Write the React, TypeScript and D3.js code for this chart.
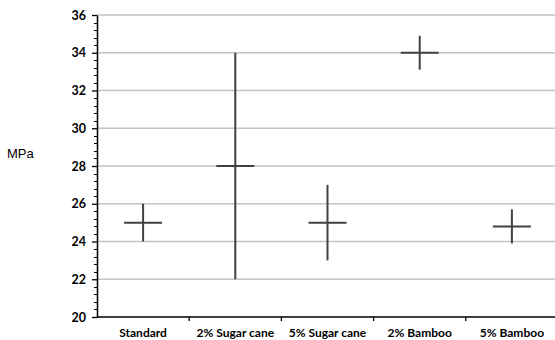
import React, { useEffect, useRef } from 'react';
import * as d3 from 'd3';

const categories = ['Standard', '2% Sugar cane', '5% Sugar cane', '2% Bamboo', '5% Bamboo'];
const meanValues = [25, 28, 25, 34, 24.8];
const highValues = [26, 34, 27, 34.9, 25.7];
const lowValues = [24, 22, 23, 33.1, 23.9];
const yTicks = [20, 22, 24, 26, 28, 30, 32, 34, 36];

const Chart: React.FC = () => {
  const svgRef = useRef<SVGSVGElement>(null);

  useEffect(() => {
    if (!svgRef.current) return;
    const width = 555;
    const left = 97;
    const right = 558;
    const top = 15;
    const bottom = 317;

    const svg = d3.select(svgRef.current);
    svg.selectAll('*').remove();

    const x = d3.scaleBand<string>().domain(categories).range([left, right]);
    const y = d3.scaleLinear().domain([20, 36]).range([bottom, top]);

    // gridlines
    svg.append('g')
      .selectAll('line')
      .data(yTicks.filter(t => t > 20))
      .enter()
      .append('line')
      .attr('x1', left)
      .attr('x2', width)
      .attr('y1', d => y(d))
      .attr('y2', d => y(d))
      .attr('stroke', '#c4c4c4')
      .attr('stroke-width', 1.3);

    // minor ticks, 0.4 apart
    const minor = d3.range(0, 41).map(i => 20 + i * 0.4).filter(v => Math.abs(v / 2 - Math.round(v / 2)) > 0.01);
    svg.append('g')
      .selectAll('line')
      .data(minor)
      .enter()
      .append('line')
      .attr('x1', left - 3)
      .attr('x2', left)
      .attr('y1', d => Math.round(y(d)) + 0.5)
      .attr('y2', d => Math.round(y(d)) + 0.5)
      .attr('stroke', '#000')
      .attr('stroke-width', 1);

    // y axis
    const yAxis = svg.append('g')
      .attr('transform', `translate(${left},0)`)
      .call(d3.axisLeft(y).tickValues(yTicks).tickSize(5).tickPadding(6).tickSizeOuter(0));
    yAxis.select('.domain').attr('stroke', '#000').attr('stroke-width', 1.5);
    yAxis.selectAll('.tick line').attr('stroke', '#000').attr('stroke-width', 1.3);
    yAxis.selectAll('.tick text')
      .attr('font-family', 'Lato, "Open Sans", sans-serif')
      .attr('font-weight', 'bold')
      .attr('font-size', 12.5)
      .attr('fill', '#000');

    // x axis
    svg.append('line')
      .attr('x1', left)
      .attr('x2', width)
      .attr('y1', bottom)
      .attr('y2', bottom)
      .attr('stroke', '#000')
      .attr('stroke-width', 1.5);

    svg.append('g')
      .selectAll('line')
      .data(categories.slice(1))
      .enter()
      .append('line')
      .attr('x1', d => x(d) as number)
      .attr('x2', d => x(d) as number)
      .attr('y1', bottom)
      .attr('y2', bottom + 4)
      .attr('stroke', '#000')
      .attr('stroke-width', 1.3);

    svg.append('g')
      .selectAll('text')
      .data(categories)
      .enter()
      .append('text')
      .attr('x', d => (x(d) as number) + x.bandwidth() / 2)
      .attr('y', 337)
      .attr('text-anchor', 'middle')
      .attr('font-family', 'Lato, "Open Sans", sans-serif')
      .attr('font-weight', 'bold')
      .attr('font-size', 12)
      .attr('fill', '#000')
      .text(d => d);

    // axis title
    svg.append('text')
      .attr('x', 7)
      .attr('y', 158)
      .attr('font-family', '"Liberation Sans", Arial, sans-serif')
      .attr('font-size', 13)
      .attr('fill', '#000')
      .text('MPa');

    // error bars and mean markers
    const g = svg.append('g');
    categories.forEach((c, i) => {
      const cx = (x(c) as number) + x.bandwidth() / 2;
      g.append('line')
        .attr('x1', cx).attr('x2', cx)
        .attr('y1', y(highValues[i])).attr('y2', y(lowValues[i]))
        .attr('stroke', '#404040').attr('stroke-width', 2);
      g.append('line')
        .attr('x1', cx - 19).attr('x2', cx + 19)
        .attr('y1', y(meanValues[i])).attr('y2', y(meanValues[i]))
        .attr('stroke', '#404040').attr('stroke-width', 2);
    });
  }, []);

  return <svg ref={svgRef} width={555} height={340} style={{ display: 'block' }} />;
};

export default function App() {
  return (
    <div style={{ position: 'absolute', left: 0, top: 0, background: '#fff' }}>
      <Chart />
    </div>
  );
}
